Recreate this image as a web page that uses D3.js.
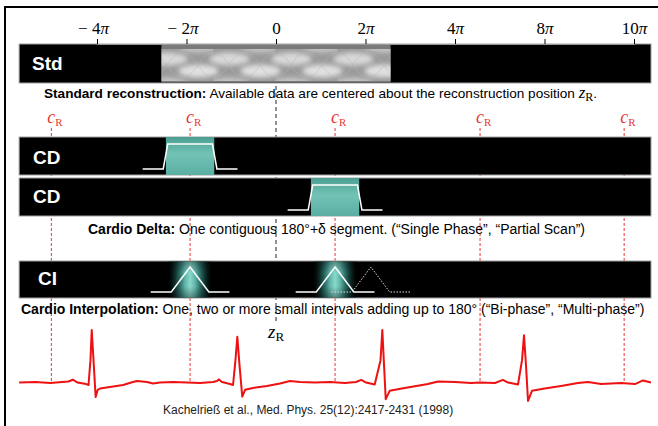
<!DOCTYPE html>
<html>
<head>
<meta charset="utf-8">
<script src="https://cdn.jsdelivr.net/npm/d3@7"></script>
<style>
body { margin: 0; background: #fff; }
svg { display: block; }
</style>
</head>
<body>
<script>

// axis ticks (phase position) and their labels as printed
var tickValues = [-200, -100, 0, 100, 200, 300, 400];
var tickLabels = ["\u2212 4\u03c0", "\u2212 2\u03c0", "0", "2\u03c0", "4\u03c0", "8\u03c0", "10\u03c0"];

// rows of the figure
var rowNames = ["Std", "CD", "CD", "CI"];
var barStart = -287, barEnd = 419;
var stdData = [-128, 128];          // available data for standard recon

// cardiac phase positions c_R
var cardiacPos = [-251, -96, 66, 228, 389];

// Cardio Delta weight (trapezoid), offsets from c_R
var cdWeightT = [-53, -30, -25, 25, 30, 53];
var cdWeightW = [0, 0, 1, 1, 0, 0];
var cdCenters = [-96, 66];
var cdHalfWidth = 27;

// Cardio Interpolation weight (triangle)
var ciWeightT = [-44, -21, 0, 21, 44];
var ciWeightW = [0, 0, 1, 0, 0];
var ciCenters = [-96, 66];
var ciDotted = [106];

// ECG trace
var ecgT = [-287, -269, -252, -239, -232, -227, -222, -212, -209.5, -207.3, -205.9, -203.9, -201.5, -199.2, -196.6,
  -185.5, -170.9, -159.8, -155.3, -144.1, -137.4, -129.6, -115.1, -99.4, -84.9, -70.4, -65.9, -63.7, -60.3,
  -51.4, -48, -45.3, -43.2, -40.8, -37.7, -34.6, -25.7, -10.1, 4.5, 15.6, 26.8, 43.6, 60.3, 77.1, 89.4,
  95.3, 100.6, 110.3, 116.8, 118.8, 120.7, 122.6, 127, 143.8, 169.8, 181, 200, 217.9, 227.9, 244.7,
  253.6, 259.2, 270.4, 274.9, 277.1, 279.3, 281.6, 286, 300.2, 318.4, 337.4, 348.6, 363.1, 385.5, 401.1, 410.1, 419];
var ecgV = [-0.01, 0, -0.02, 0, 0.01, 0.044, -0.01, -0.04, -0.058, 0.42, 1.0, 0.42, -0.29, -0.15, -0.125,
  -0.096, -0.058, 0, 0.02, 0, -0.03, -0.01, 0, -0.01, -0.02, 0, 0.02, 0.05, 0,
  -0.04, -0.058, 0.42, 0.87, 0.33, -0.28, -0.15, -0.115, -0.077, -0.03, 0.02, 0, -0.01, 0, -0.02, 0,
  0.04, -0.01, -0.048, 0.42, 1.0, 0.33, -0.33, -0.17, -0.115, -0.04, 0.01, 0, -0.02, -0.01, -0.02,
  0.04, -0.01, -0.048, 0.42, 0.9, 0.33, -0.365, -0.17, -0.125, -0.077, -0.02, 0, -0.04, -0.02, -0.04, 0.03, -0.01];

var width = 658, height = 426;
var sans = "'Liberation Sans', Arial, sans-serif";
var serif = "'Liberation Serif', 'Times New Roman', serif";

var x = d3.scaleLinear().domain([-200, 400]).range([97, 634]);
var yEcg = d3.scaleLinear().domain([-0.4, 1.0]).range([402.8, 330]);

// vertical bands for each row
var rowTop = [44, 137, 178, 261];
var rowH = [39, 38, 38, 37];

var svg = d3.select("body").append("svg")
  .attr("width", width)
  .attr("height", height);

var defs = svg.append("defs");

// texture for the standard reconstruction data
var pat = defs.append("pattern")
  .attr("id", "stdTex")
  .attr("patternUnits", "userSpaceOnUse")
  .attr("x", x(stdData[0]) - 10).attr("y", 49)
  .attr("width", 62).attr("height", 32);
pat.append("rect").attr("width", 62).attr("height", 32).attr("fill", "#9a9a9a");
defs.append("filter").attr("id", "soft")
  .attr("x", "-20%").attr("y", "-20%").attr("width", "140%").attr("height", "140%")
  .append("feGaussianBlur").attr("stdDeviation", 2.4);
var lens = pat.append("g").attr("filter", "url(#soft)");
[[16, 10, "#d8d8d8"], [47, 22, "#e0e0e0"], [-15, 22, "#e0e0e0"], [78, 10, "#d8d8d8"], [47, -3, "#c6c6c6"], [16, 35, "#c6c6c6"]].forEach(function(p) {
  lens.append("ellipse").attr("cx", p[0]).attr("cy", p[1]).attr("rx", 20).attr("ry", 6.5).attr("fill", p[2]);
});
var wav = pat.append("g").attr("fill", "none").attr("stroke", "#b4b4b4").attr("stroke-width", 0.8).attr("opacity", 0.7);
wav.append("path").attr("d", "M0,4 C15,4 16,28 31,28 C46,28 47,4 62,4");
wav.append("path").attr("d", "M0,28 C15,28 16,4 31,4 C46,4 47,28 62,28");

var teal = defs.append("linearGradient").attr("id", "teal")
  .attr("x1", 0).attr("y1", 0).attr("x2", 0).attr("y2", 1);
teal.append("stop").attr("offset", "0%").attr("stop-color", "#4c9e92");
teal.append("stop").attr("offset", "45%").attr("stop-color", "#72c3b6");
teal.append("stop").attr("offset", "100%").attr("stop-color", "#5aaea2");

var glow = defs.append("linearGradient").attr("id", "glow")
  .attr("x1", 0).attr("y1", 0).attr("x2", 1).attr("y2", 0);
glow.append("stop").attr("offset", "0%").attr("stop-color", "#0b2a27").attr("stop-opacity", 0);
glow.append("stop").attr("offset", "20%").attr("stop-color", "#1f5f58").attr("stop-opacity", 0.8);
glow.append("stop").attr("offset", "38%").attr("stop-color", "#5fb4a8").attr("stop-opacity", 1);
glow.append("stop").attr("offset", "50%").attr("stop-color", "#8ad8cc").attr("stop-opacity", 1);
glow.append("stop").attr("offset", "62%").attr("stop-color", "#5fb4a8").attr("stop-opacity", 1);
glow.append("stop").attr("offset", "80%").attr("stop-color", "#1f5f58").attr("stop-opacity", 0.8);
glow.append("stop").attr("offset", "100%").attr("stop-color", "#0b2a27").attr("stop-opacity", 0);

var shade = defs.append("linearGradient").attr("id", "shade")
  .attr("x1", 0).attr("y1", 0).attr("x2", 0).attr("y2", 1);
shade.append("stop").attr("offset", "0%").attr("stop-color", "#000").attr("stop-opacity", 0.35);
shade.append("stop").attr("offset", "30%").attr("stop-color", "#000").attr("stop-opacity", 0);
shade.append("stop").attr("offset", "70%").attr("stop-color", "#000").attr("stop-opacity", 0);
shade.append("stop").attr("offset", "100%").attr("stop-color", "#000").attr("stop-opacity", 0.35);

// frame
svg.append("line").attr("x1", 4).attr("x2", width).attr("y1", 7).attr("y2", 7)
  .attr("stroke", "#000").attr("stroke-width", 2);
svg.append("line").attr("x1", 5).attr("x2", 5).attr("y1", 6).attr("y2", height)
  .attr("stroke", "#000").attr("stroke-width", 2);

// dashed guide lines
svg.append("line")
  .attr("x1", x(0)).attr("x2", x(0)).attr("y1", 44).attr("y2", 322)
  .attr("stroke", "#222").attr("stroke-width", 1).attr("stroke-dasharray", "4,3");

svg.selectAll(".cline")
  .data(cardiacPos)
  .enter().append("line")
  .attr("class", "cline")
  .attr("x1", function(d) { return x(d); })
  .attr("x2", function(d) { return x(d); })
  .attr("y1", 128).attr("y2", yEcg(0))
  .attr("stroke", "#e53935").attr("stroke-width", 1).attr("stroke-dasharray", "3,2");

// black bars
svg.selectAll(".bar")
  .data(rowNames)
  .enter().append("rect")
  .attr("class", "bar")
  .attr("x", x(barStart))
  .attr("y", function(d, i) { return rowTop[i]; })
  .attr("width", x(barEnd) - x(barStart))
  .attr("height", function(d, i) { return rowH[i]; })
  .attr("fill", "#000")
  .attr("stroke", "#a0a0a0").attr("stroke-width", 1);

// std data region
svg.append("rect")
  .attr("x", x(stdData[0])).attr("y", 44.5)
  .attr("width", x(stdData[1]) - x(stdData[0])).attr("height", 38)
  .attr("fill", "#7a7a7a");
svg.append("rect")
  .attr("x", x(stdData[0])).attr("y", 49)
  .attr("width", x(stdData[1]) - x(stdData[0])).attr("height", 32)
  .attr("fill", "url(#stdTex)");

// axis on top of the Std bar
var axis = d3.axisTop(x)
  .tickValues(tickValues)
  .tickSize(5)
  .tickPadding(5)
  .tickFormat(function(d, i) { return tickLabels[i]; });

var gAxis = svg.append("g")
  .attr("transform", "translate(0,44)")
  .call(axis);
gAxis.select(".domain").attr("stroke", "#999");
gAxis.selectAll(".tick line").attr("stroke", "#000");
gAxis.selectAll(".tick text")
  .attr("font-family", serif)
  .attr("font-size", 17)
  .attr("fill", "#000")
  .each(function(d, i) {
    var lab = tickLabels[i];
    var t = d3.select(this).text("");
    if (lab.slice(-1) === "\u03c0") {
      t.append("tspan").text(lab.slice(0, -1));
      t.append("tspan").attr("font-style", "italic").text("\u03c0");
    } else {
      t.text(lab);
    }
    if (d < 0) t.attr("dx", -4);
  });

// CD windows
var wLine = d3.line();
cdCenters.forEach(function(c, k) {
  var top = rowTop[k + 1], h = rowH[k + 1];
  var yw = d3.scaleLinear().domain([0, 1]).range([top + h - 6, top + 7]);
  svg.append("rect")
    .attr("x", x(c - cdHalfWidth)).attr("y", top)
    .attr("width", x(c + cdHalfWidth) - x(c - cdHalfWidth)).attr("height", h)
    .attr("fill", "url(#teal)");
  svg.append("path")
    .attr("d", wLine(cdWeightT.map(function(t, j) { return [x(c + t), yw(cdWeightW[j])]; })))
    .attr("fill", "none").attr("stroke", "#fff").attr("stroke-width", 1.5);
});

// CI windows
var ciTop = rowTop[3], ciH = rowH[3];
var yci = d3.scaleLinear().domain([0, 1]).range([ciTop + ciH - 6, ciTop + 6]);
ciCenters.forEach(function(c) {
  svg.append("rect")
    .attr("x", x(c - 24)).attr("y", ciTop + 0.5)
    .attr("width", x(c + 24) - x(c - 24)).attr("height", ciH - 1)
    .attr("fill", "url(#glow)");
  svg.append("rect")
    .attr("x", x(c - 24)).attr("y", ciTop + 0.5)
    .attr("width", x(c + 24) - x(c - 24)).attr("height", ciH - 1)
    .attr("fill", "url(#shade)");
});
ciCenters.forEach(function(c) {
  svg.append("path")
    .attr("d", wLine(ciWeightT.map(function(t, j) { return [x(c + t), yci(ciWeightW[j])]; })))
    .attr("fill", "none").attr("stroke", "#fff").attr("stroke-width", 1.5);
});
ciDotted.forEach(function(c) {
  svg.append("path")
    .attr("d", wLine(ciWeightT.map(function(t, j) { return [x(c + t), yci(ciWeightW[j])]; })))
    .attr("fill", "none").attr("stroke", "#ddd").attr("stroke-width", 1)
    .attr("stroke-dasharray", "1.5,1.5");
});

// row labels
var labelX = [32, 33, 33, 38];
var labelY = [70, 164, 203, 285];
svg.selectAll(".rowlab")
  .data(rowNames)
  .enter().append("text")
  .attr("class", "rowlab")
  .attr("x", function(d, i) { return labelX[i]; })
  .attr("y", function(d, i) { return labelY[i]; })
  .attr("font-family", sans).attr("font-weight", "bold").attr("font-size", 19)
  .attr("fill", "#fff")
  .text(function(d) { return d; });

// c_R labels
cardiacPos.forEach(function(c) {
  var t = svg.append("text")
    .attr("x", x(c) - 4).attr("y", 123)
    .attr("font-family", serif).attr("fill", "#e53935");
  t.append("tspan").attr("font-style", "italic").attr("font-size", 18).text("c");
  t.append("tspan").attr("font-size", 11).attr("dy", 3).text("R");
});

// captions
function caption(px, py, size, bold, rest) {
  var t = svg.append("text")
    .attr("x", px).attr("y", py)
    .attr("font-family", sans).attr("font-size", size).attr("fill", "#000");
  t.append("tspan").attr("font-weight", "bold").text(bold);
  t.append("tspan").text(rest);
  return t;
}
var c1 = caption(44, 98, 13.6, "Standard reconstruction:", " Available data are centered about the reconstruction position ");
c1.append("tspan").attr("font-family", serif).attr("font-style", "italic").attr("font-size", 17).text("z");
c1.append("tspan").attr("font-family", serif).attr("font-size", 12).attr("dy", 3).text("R");
c1.append("tspan").attr("dy", -3).text(".");

caption(88, 234, 14, "Cardio Delta:", " One contiguous 180\u00b0+\u03b4 segment. (\u201cSingle Phase\u201d, \u201cPartial Scan\u201d)");
caption(21, 314, 14, "Cardio Interpolation:", " One, two or more small intervals adding up to 180\u00b0 (\u201cBi-phase\u201d, \u201cMulti-phase\u201d)");

// z_R label
var zr = svg.append("text")
  .attr("x", x(0) - 8).attr("y", 338)
  .attr("font-family", serif).attr("fill", "#000");
zr.append("tspan").attr("font-style", "italic").attr("font-size", 19).text("z");
zr.append("tspan").attr("font-size", 13).attr("dy", 3).text("R");

// ECG
var ecgLine = d3.line()
  .x(function(d) { return x(d[0]); })
  .y(function(d) { return yEcg(d[1]); });
svg.append("path")
  .attr("d", ecgLine(ecgT.map(function(t, i) { return [t, ecgV[i]]; })))
  .attr("fill", "none")
  .attr("stroke", "#ee1111")
  .attr("stroke-width", 2)
  .attr("stroke-linejoin", "round");

// reference
svg.append("text")
  .attr("x", 163).attr("y", 414)
  .attr("font-family", sans).attr("font-size", 12).attr("fill", "#222")
  .text("Kachelrie\u00df et al., Med. Phys. 25(12):2417-2431 (1998)");

</script>
</body>
</html>
